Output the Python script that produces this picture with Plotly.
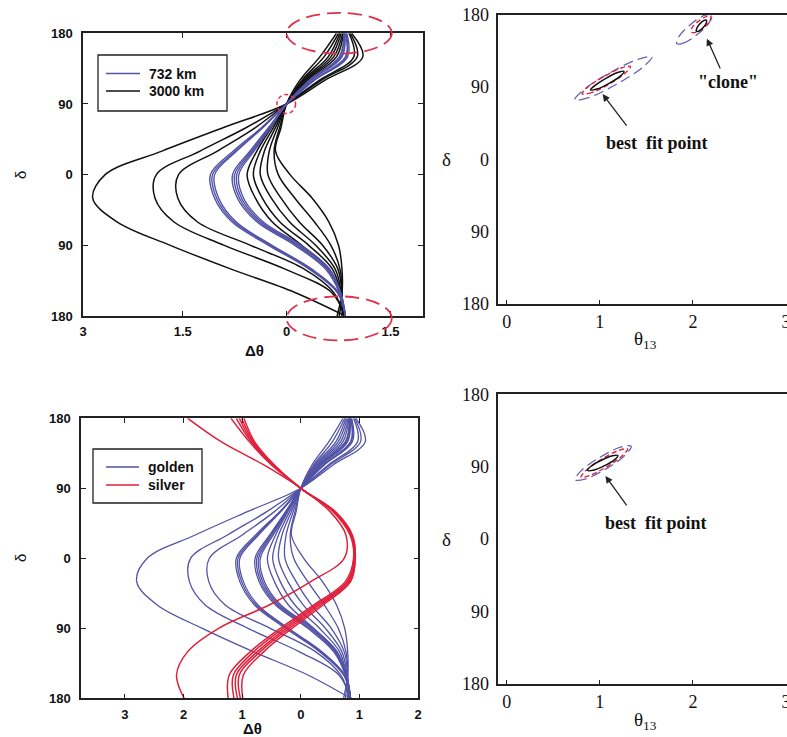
import plotly.graph_objects as go

W, H = 787, 737

# ---------------- data ----------------
DELTA_GRID = [180, 150, 120, 90, 60, 30, 0, -30, -60, -90, -120, -150, -180]

# top-left panel: 3000 km curves (black), delta-theta at each DELTA_GRID value
KM3000_1 = [0.94, 1.10, 0.55, 0.0, -0.91, -1.80, -2.62, -2.80, -2.45, -1.68, -0.81, 0.12, 0.85]
KM3000_2 = [0.92, 1.02, 0.50, 0.0, -0.58, -1.25, -1.88, -1.90, -1.63, -0.90, -0.03, 0.65, 0.84]
KM3000_3 = [0.90, 0.97, 0.47, 0.0, -0.45, -1.00, -1.56, -1.57, -1.29, -0.52, 0.25, 0.68, 0.83]
KM3000_4 = [0.82, 0.72, 0.30, 0.0, -0.22, -0.43, -0.57, -0.45, -0.21, 0.22, 0.61, 0.77, 0.84]
KM3000_5 = [0.81, 0.68, 0.28, 0.0, -0.19, -0.38, -0.48, -0.35, -0.10, 0.32, 0.66, 0.78, 0.84]
KM3000_6 = [0.79, 0.64, 0.26, 0.0, -0.16, -0.32, -0.38, -0.22, 0.04, 0.42, 0.70, 0.79, 0.83]
KM3000_7 = [0.77, 0.60, 0.24, 0.0, -0.13, -0.25, -0.27, -0.08, 0.18, 0.52, 0.74, 0.80, 0.80]
KM3000_8 = [0.75, 0.54, 0.22, 0.0, -0.10, -0.18, -0.12, 0.12, 0.40, 0.64, 0.77, 0.80, 0.76]
KM3000_9 = [0.72, 0.48, 0.19, 0.0, -0.08, -0.16, 0.05, 0.37, 0.61, 0.75, 0.80, 0.80, 0.73]

# top-left panel: 732 km curves (blue)
KM732_1 = [0.87, 0.88, 0.40, 0.0, -0.36, -0.77, -1.10, -1.04, -0.79, -0.26, 0.32, 0.73, 0.85]
KM732_2 = [0.86, 0.86, 0.39, 0.0, -0.35, -0.74, -1.07, -1.01, -0.76, -0.23, 0.34, 0.74, 0.85]
KM732_3 = [0.85, 0.85, 0.38, 0.0, -0.34, -0.72, -1.04, -0.98, -0.73, -0.21, 0.36, 0.75, 0.85]
KM732_4 = [0.84, 0.80, 0.35, 0.0, -0.26, -0.53, -0.78, -0.71, -0.43, 0.12, 0.56, 0.76, 0.85]
KM732_5 = [0.84, 0.79, 0.34, 0.0, -0.25, -0.51, -0.75, -0.68, -0.40, 0.15, 0.58, 0.77, 0.85]
KM732_6 = [0.83, 0.77, 0.33, 0.0, -0.24, -0.49, -0.72, -0.65, -0.37, 0.18, 0.60, 0.78, 0.85]
KM732_7 = [0.83, 0.76, 0.32, 0.0, -0.23, -0.47, -0.69, -0.62, -0.34, 0.21, 0.62, 0.78, 0.85]

KM3000 = [KM3000_1, KM3000_2, KM3000_3, KM3000_4, KM3000_5, KM3000_6, KM3000_7, KM3000_8, KM3000_9]
KM732 = [KM732_1, KM732_2, KM732_3, KM732_4, KM732_5, KM732_6, KM732_7]

# bottom-left panel: golden (blue) curves have the same shapes as the top-left family
GOLDEN = KM3000 + KM732

# bottom-left panel: silver (red) curves
SILVER_1 = [-1.93, -1.36, -0.63, 0.0, 0.50, 0.77, 0.74, 0.17, -0.54, -1.40, -1.93, -2.12, -1.99]
SILVER_2 = [-1.19, -0.88, -0.50, 0.0, 0.55, 0.84, 0.90, 0.76, 0.22, -0.35, -0.86, -1.22, -1.24]
SILVER_3 = [-1.10, -0.85, -0.48, 0.0, 0.56, 0.85, 0.91, 0.79, 0.26, -0.30, -0.80, -1.15, -1.14]
SILVER_4 = [-1.05, -0.83, -0.47, 0.0, 0.57, 0.86, 0.92, 0.81, 0.30, -0.25, -0.74, -1.10, -1.08]
SILVER_5 = [-1.01, -0.81, -0.46, 0.0, 0.58, 0.87, 0.93, 0.83, 0.34, -0.20, -0.69, -1.05, -1.03]
SILVER_6 = [-0.97, -0.79, -0.45, 0.0, 0.59, 0.88, 0.93, 0.85, 0.38, -0.15, -0.63, -0.98, -0.99]
SILVER = [SILVER_1, SILVER_2, SILVER_3, SILVER_4, SILVER_5, SILVER_6]

# top-right panel: allowed regions (theta13, delta) contour outlines
FIT2_BLUE_TH = [1.18, 0.88, 0.73, 0.83, 1.11, 1.41, 1.56, 1.46]
FIT2_BLUE_DE = [93.3, 76.6, 73.8, 86.6, 107.6, 124.3, 127.1, 114.3]
FIT2_RED_TH = [1.10, 0.91, 0.81, 0.87, 1.05, 1.24, 1.33, 1.27]
FIT2_RED_DE = [93.4, 82.8, 81.3, 89.7, 103.2, 113.8, 115.4, 106.9]
FIT2_BLACK_TH = [1.10, 0.97, 0.90, 0.95, 1.07, 1.20, 1.26, 1.22]
FIT2_BLACK_DE = [94.4, 87.3, 86.3, 91.9, 101.0, 108.1, 109.1, 103.4]
CLONE_BLUE_TH = [2.056, 1.910, 1.826, 1.853, 1.975, 2.121, 2.206, 2.178]
CLONE_BLUE_DE = [156.0, 145.0, 143.8, 153.2, 167.7, 178.8, 180.0, 170.5]
CLONE_RED_TH = [2.119, 2.037, 1.985, 1.994, 2.058, 2.140, 2.190, 2.183]
CLONE_RED_DE = [163.8, 158.0, 158.1, 164.4, 171.5, 177.3, 178.4, 172.4]
CLONE_BLACK_TH = [2.111, 2.068, 2.038, 2.040, 2.072, 2.115, 2.146, 2.143]
CLONE_BLACK_DE = [163.9, 159.6, 159.1, 162.6, 168.1, 172.4, 172.9, 169.4]

# bottom-right panel
FIT4_BLUE_TH = [1.071, 0.847, 0.735, 0.798, 1.000, 1.223, 1.337, 1.272]
FIT4_BLUE_DE = [87.6, 74.9, 73.8, 84.8, 101.6, 114.3, 115.4, 104.4]
FIT4_RED_TH = [1.072, 0.888, 0.798, 0.854, 1.023, 1.207, 1.298, 1.241]
FIT4_RED_DE = [89.8, 78.9, 77.1, 85.6, 99.5, 110.4, 112.1, 103.6]
FIT4_BLACK_TH = [1.046, 0.927, 0.868, 0.905, 1.017, 1.136, 1.194, 1.157]
FIT4_BLACK_DE = [91.0, 85.5, 85.4, 90.6, 98.1, 103.6, 103.8, 98.5]

DELTA_TICKS = [-180, -90, 0, 90, 180]
DELTA_TICKTEXT = ["180", "90", "0", "90", "180"]
P1_XTICKS = [-2.94, -1.5, 0, 1.5]
P1_XTICKTEXT = ["3", "1.5", "0", "1.5"]
P3_XTICKS = [-3, -2, -1, 0, 1, 2]
P3_XTICKTEXT = ["3", "2", "1", "0", "1", "2"]
THETA_TICKS = [0, 1, 2, 3]

# ---------------- styling ----------------
SANS = "Liberation Sans, Arial, Helvetica, sans-serif"
SERIF = "Liberation Serif, Times New Roman, serif"
INK = "#111111"
BLUE = "#5252a6"
RED = "#e0213c"
HL_RED = "#e0324e"
CBLUE = "#6262b8"


def dom_x(l, r):
    return [l / W, min(1.0, r / W)]


def dom_y(t, b):
    return [1 - b / H, 1 - t / H]


AX = {
    "1": dict(xd=dom_x(83, 423), yd=dom_y(33.3, 316), xr=[-2.94, 1.97], yr=[-180, 180]),
    "2": dict(xd=dom_x(498.3, 787), yd=dom_y(14.5, 304), xr=[-0.09, 3.01], yr=[-180, 180]),
    "3": dict(xd=dom_x(81, 418.3), yd=dom_y(418.3, 698.3), xr=[-3.75, 2.005], yr=[-180, 180]),
    "4": dict(xd=dom_x(498.3, 787), yd=dom_y(394.3, 684), xr=[-0.09, 3.01], yr=[-180, 180]),
}


def to_paper(panel, xv, yv):
    a = AX[panel]
    px = a["xd"][0] + (xv - a["xr"][0]) / (a["xr"][1] - a["xr"][0]) * (a["xd"][1] - a["xd"][0])
    py = a["yd"][0] + (yv - a["yr"][0]) / (a["yr"][1] - a["yr"][0]) * (a["yd"][1] - a["yd"][0])
    return px, py


def pp(x, y):
    return x / W, 1 - y / H


fig = go.Figure()


def add_curve(xs, color, width, axn):
    fig.add_trace(go.Scatter(
        x=xs, y=DELTA_GRID, mode="lines",
        line=dict(color=color, width=width, shape="spline", smoothing=1.0),
        xaxis="x" + ("" if axn == "1" else axn), yaxis="y" + ("" if axn == "1" else axn),
        showlegend=False, hoverinfo="skip"))


def add_loop(th, de, color, width, dash, axn):
    fig.add_trace(go.Scatter(
        x=th + [th[0]], y=de + [de[0]], mode="lines",
        line=dict(color=color, width=width, dash=dash, shape="spline", smoothing=1.0),
        xaxis="x" + axn, yaxis="y" + axn, showlegend=False, hoverinfo="skip"))


# panel 1
for c in KM3000:
    add_curve(c, INK, 1.5, "1")
for c in KM732:
    add_curve(c, BLUE, 1.4, "1")
# panel 3
for c in GOLDEN:
    add_curve(c, BLUE, 1.3, "3")
for c in SILVER:
    add_curve(c, RED, 1.5, "3")
# panel 2
add_loop(FIT2_BLUE_TH, FIT2_BLUE_DE, CBLUE, 1.3, "10px,5px", "2")
add_loop(FIT2_RED_TH, FIT2_RED_DE, RED, 1.4, "5px,3px", "2")
add_loop(FIT2_BLACK_TH, FIT2_BLACK_DE, INK, 1.5, "solid", "2")
add_loop(CLONE_BLUE_TH, CLONE_BLUE_DE, CBLUE, 1.3, "10px,5px", "2")
add_loop(CLONE_RED_TH, CLONE_RED_DE, RED, 1.4, "5px,3px", "2")
add_loop(CLONE_BLACK_TH, CLONE_BLACK_DE, INK, 1.5, "solid", "2")
# panel 4
add_loop(FIT4_BLUE_TH, FIT4_BLUE_DE, CBLUE, 1.3, "10px,5px", "4")
add_loop(FIT4_RED_TH, FIT4_RED_DE, RED, 1.4, "5px,3px", "4")
add_loop(FIT4_BLACK_TH, FIT4_BLACK_DE, INK, 1.5, "solid", "4")

sans_tick = dict(family=SANS, size=13, color=INK, weight=700)
serif_tick = dict(family=SERIF, size=18, color=INK)

left_common = dict(showline=True, linecolor="#222", linewidth=1.5, mirror="allticks",
                   ticks="inside", ticklen=5, tickwidth=1.2, tickcolor="#222",
                   showgrid=False, zeroline=False, tickfont=sans_tick, automargin=False,
                   ticklabeloverflow="allow")
right_x = dict(showline=True, linecolor="#222", linewidth=1.5, mirror=True,
               ticks="inside", ticklen=4, tickwidth=1.2, tickcolor="#222",
               showgrid=False, zeroline=False, tickfont=serif_tick, automargin=False,
               tickvals=THETA_TICKS, ticktext=[str(v) for v in THETA_TICKS], ticklabelstandoff=1,
               ticklabeloverflow="allow")
right_y = dict(showline=True, linecolor="#222", linewidth=1.5, mirror=False, ticks="",
               showgrid=False, zeroline=False, tickfont=serif_tick, automargin=False,
               tickvals=DELTA_TICKS, ticktext=DELTA_TICKTEXT, ticklabelstandoff=4,
               ticklabeloverflow="allow")

fig.update_layout(
    width=W, height=H, margin=dict(l=0, r=0, t=0, b=0),
    paper_bgcolor="white", plot_bgcolor="white", showlegend=False,
    xaxis=dict(**left_common, domain=AX["1"]["xd"], range=AX["1"]["xr"], anchor="y",
               tickvals=P1_XTICKS, ticktext=P1_XTICKTEXT, ticklabelstandoff=3),
    yaxis=dict(**left_common, domain=AX["1"]["yd"], range=AX["1"]["yr"], anchor="x",
               tickvals=DELTA_TICKS, ticktext=DELTA_TICKTEXT, ticklabelstandoff=6),
    xaxis2=dict(**right_x, domain=AX["2"]["xd"], range=AX["2"]["xr"], anchor="y2"),
    yaxis2=dict(**right_y, domain=AX["2"]["yd"], range=AX["2"]["yr"], anchor="x2"),
    xaxis3=dict(**left_common, domain=AX["3"]["xd"], range=AX["3"]["xr"], anchor="y3",
                tickvals=P3_XTICKS, ticktext=P3_XTICKTEXT, ticklabelstandoff=3),
    yaxis3=dict(**left_common, domain=AX["3"]["yd"], range=AX["3"]["yr"], anchor="x3",
                tickvals=DELTA_TICKS, ticktext=DELTA_TICKTEXT, ticklabelstandoff=6),
    xaxis4=dict(**right_x, domain=AX["4"]["xd"], range=AX["4"]["xr"], anchor="y4"),
    yaxis4=dict(**right_y, domain=AX["4"]["yd"], range=AX["4"]["yr"], anchor="x4"),
)

shapes = []


def hl_ellipse(panel, x0, x1, y0, y1, dash, width):
    a0, b0 = to_paper(panel, x0, y0)
    a1, b1 = to_paper(panel, x1, y1)
    shapes.append(dict(type="circle", xref="paper", yref="paper", x0=a0, x1=a1, y0=b0, y1=b1,
                       line=dict(color=HL_RED, width=width, dash=dash), layer="above"))


# highlighted regions in the top-left panel
hl_ellipse("1", 0.0, 1.52, 154, 206, "14px,7px", 1.8)
hl_ellipse("1", -0.14, 0.13, 78, 102, "4px,3px", 1.5)
hl_ellipse("1", 0.0, 1.52, -211, -155, "14px,7px", 1.8)


def legend_box(box, rows):
    (l, t, r, b) = box
    x0, y0 = pp(l, b)
    x1, y1 = pp(r, t)
    shapes.append(dict(type="rect", xref="paper", yref="paper", x0=x0, x1=x1, y0=y0, y1=y1,
                       line=dict(color="#222", width=1.3), fillcolor="white", layer="above"))
    anns = []
    for (ly, color, label, lx0, lx1, tx) in rows:
        a0, yy = pp(lx0, ly)
        a1, _ = pp(lx1, ly)
        shapes.append(dict(type="line", xref="paper", yref="paper", x0=a0, x1=a1, y0=yy, y1=yy,
                           line=dict(color=color, width=1.6), layer="above"))
        tx_p, _ = pp(tx, ly)
        anns.append(dict(x=tx_p, y=yy, xref="paper", yref="paper", text=label, showarrow=False,
                         xanchor="left", yanchor="middle",
                         font=dict(family=SANS, size=14, color=INK, weight=700)))
    return anns


annotations = []
annotations += legend_box((98, 55, 227, 111), [(73.5, BLUE, "732 km", 106, 140, 147),
                                                (91, INK, "3000 km", 106, 140, 147)])
annotations += legend_box((93, 449, 202, 503), [(467, BLUE, "golden", 106, 139, 146),
                                                 (485, RED, "silver", 106, 139, 146)])


def text_px(x, y, text, font, angle=0):
    px, py = pp(x, y)
    annotations.append(dict(x=px, y=py, xref="paper", yref="paper", text=text, showarrow=False,
                            xanchor="center", yanchor="middle", textangle=angle, font=font))


sans_title = dict(family=SANS, size=15, color=INK, weight=700)
serif_title = dict(family=SERIF, size=19, color=INK)
serif_bold = dict(family=SERIF, size=18, color=INK, weight=700)

text_px(20, 175, "δ", dict(family=SANS, size=15, color=INK), -90)
text_px(255, 351, "Δθ", sans_title)
text_px(20, 558, "δ", dict(family=SANS, size=15, color=INK), -90)
text_px(252, 728, "Δθ", sans_title)

text_px(447, 159, "δ", serif_title)
text_px(645, 340, "θ<sub>13</sub>", serif_title)
text_px(447, 539, "δ", serif_title)
text_px(645, 721, "θ<sub>13</sub>", serif_title)

# labels + arrows in the right panels (data coordinates)
annotations.append(dict(x=1.61, y=20, xref="x2", yref="y2", text="best  fit point", showarrow=False,
                        font=serif_bold))
annotations.append(dict(x=2.38, y=96, xref="x2", yref="y2", text="\"clone\"", showarrow=False,
                        font=serif_bold))
annotations.append(dict(x=1.60, y=20, xref="x4", yref="y4", text="best  fit point", showarrow=False,
                        font=serif_bold))


def arrow(xa, ya, hx, hy, tx, ty):
    annotations.append(dict(x=hx, y=hy, xref=xa, yref=ya, ax=tx, ay=ty, axref=xa, ayref=ya,
                            text="", showarrow=True, arrowhead=2, arrowsize=1.1,
                            arrowwidth=1.3, arrowcolor="#222", standoff=0, startstandoff=0))


arrow("x2", "y2", 1.03, 81, 1.30, 40)
arrow("x2", "y2", 2.15, 150, 2.30, 111)
arrow("x4", "y4", 1.06, 78.5, 1.30, 40)

fig.update_layout(shapes=shapes, annotations=annotations)

fig.write_html("out.html")
